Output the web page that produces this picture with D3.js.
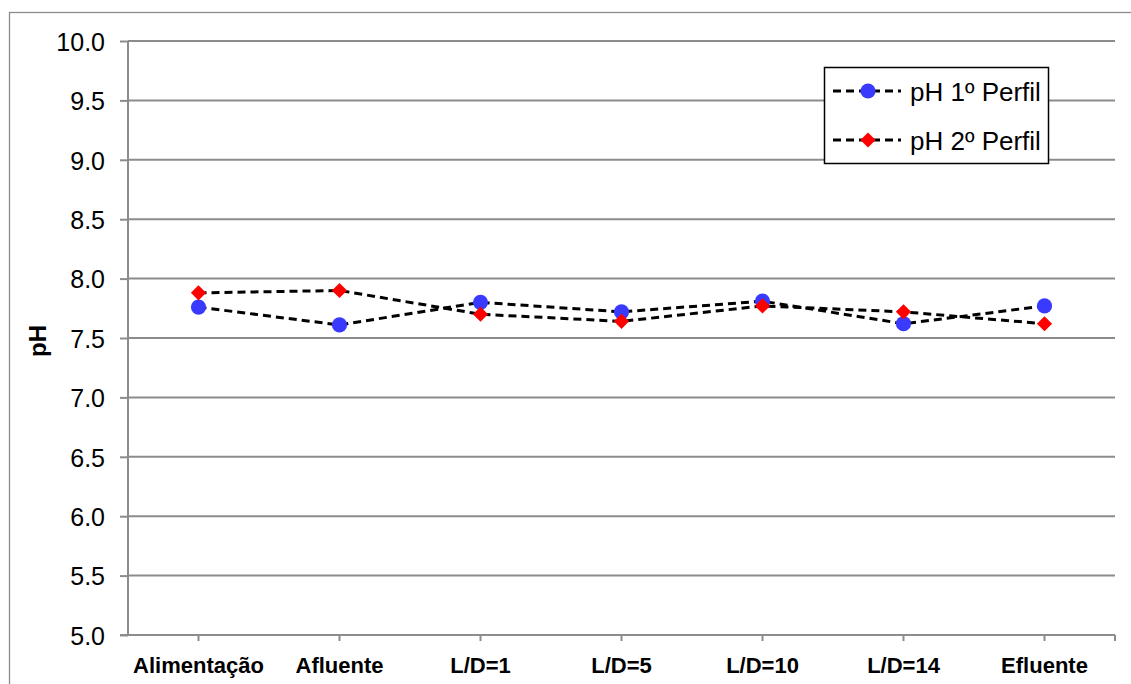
<!DOCTYPE html>
<html>
<head>
<meta charset="utf-8">
<script src="https://cdn.jsdelivr.net/npm/d3@7/dist/d3.min.js"></script>
<style>
  html, body { margin: 0; padding: 0; background: #fff; }
  svg { display: block; font-family: "Liberation Sans", Arial, sans-serif; }
</style>
</head>
<body>
<svg id="chart" width="1131" height="684"></svg>
<script>
// Sampling points along the reactor
const categories = ["Alimentação", "Afluente", "L/D=1", "L/D=5", "L/D=10", "L/D=14", "Efluente"];
// pH readings for each profile
const perfil1 = [7.76, 7.61, 7.80, 7.72, 7.81, 7.62, 7.77];
const perfil2 = [7.88, 7.90, 7.70, 7.64, 7.77, 7.72, 7.62];
const seriesNames = ["pH 1º Perfil", "pH 2º Perfil"];
const yTicks = [5.0, 5.5, 6.0, 6.5, 7.0, 7.5, 8.0, 8.5, 9.0, 9.5, 10.0];

const svg = d3.select("#chart");
const grey = "#8c8c8c";
const font = "Liberation Sans, Arial, sans-serif";

// outer frame
svg.append("rect")
  .attr("x", 9.5).attr("y", 12.5)
  .attr("width", 1140).attr("height", 700)
  .attr("fill", "none").attr("stroke", grey).attr("stroke-width", 1.3);

const plot = { left: 128, right: 1115, top: 41, bottom: 635 };

const x = d3.scaleBand().domain(categories).range([plot.left, plot.right]);
const y = d3.scaleLinear().domain([5, 10]).range([plot.bottom, plot.top]);
const cx = d => x(d) + x.bandwidth() / 2;

// horizontal gridlines
svg.append("g").selectAll("line").data(yTicks.slice(1)).join("line")
  .attr("x1", plot.left).attr("x2", plot.right)
  .attr("y1", d => y(d)).attr("y2", d => y(d))
  .attr("stroke", grey).attr("stroke-width", 2);

// y axis
const yAxis = svg.append("g")
  .attr("transform", `translate(${plot.left},0)`)
  .call(d3.axisLeft(y).tickValues(yTicks).tickFormat(d3.format(".1f")).tickSize(8).tickPadding(15));
yAxis.select(".domain").attr("stroke", grey).attr("stroke-width", 2).attr("d", `M0,${plot.top}V${plot.bottom}`);
yAxis.selectAll(".tick line").attr("stroke", grey).attr("stroke-width", 2);
yAxis.selectAll(".tick text")
  .attr("fill", "#000").attr("font-size", 25).attr("dy", "0.37em")
  .attr("font-family", font);

// x axis
const xAxis = svg.append("g")
  .attr("transform", `translate(0,${plot.bottom})`)
  .call(d3.axisBottom(x).tickSize(0).tickPadding(22));
xAxis.select(".domain").remove();
xAxis.selectAll(".tick text")
  .attr("fill", "#000").attr("font-size", 22).attr("font-weight", "bold")
  .attr("font-family", font);
// baseline and tick marks at category centres
svg.append("line")
  .attr("x1", plot.left - 8).attr("x2", plot.right)
  .attr("y1", plot.bottom).attr("y2", plot.bottom)
  .attr("stroke", grey).attr("stroke-width", 2);
svg.append("g").selectAll("line").data(categories).join("line")
  .attr("x1", d => cx(d)).attr("x2", d => cx(d))
  .attr("y1", plot.bottom).attr("y2", plot.bottom + 6)
  .attr("stroke", grey).attr("stroke-width", 2);
svg.append("line")
  .attr("x1", plot.right).attr("x2", plot.right)
  .attr("y1", plot.bottom).attr("y2", plot.bottom + 6)
  .attr("stroke", grey).attr("stroke-width", 2);

// y axis title
svg.append("text")
  .attr("transform", `translate(46,${(plot.top + plot.bottom) / 2 + 3}) rotate(-90)`)
  .attr("text-anchor", "middle")
  .attr("font-size", 24).attr("font-weight", "bold")
  .text("pH");

const line = d3.line().x((d, i) => cx(categories[i])).y(d => y(d));
const dash = "8,5";

function drawSeries(values, shape) {
  svg.append("path").datum(values)
    .attr("d", line)
    .attr("fill", "none").attr("stroke", "#000")
    .attr("stroke-width", 3).attr("stroke-dasharray", dash);
  const g = svg.append("g");
  values.forEach((v, i) => drawMarker(g, cx(categories[i]), y(v), shape));
}

function drawMarker(g, px, py, shape) {
  if (shape === "circle") {
    g.append("circle").attr("cx", px).attr("cy", py).attr("r", 7.6).attr("fill", "#3a3aff");
  } else {
    const s = 7.6;
    g.append("path")
      .attr("d", `M${px},${py - s}L${px + s},${py}L${px},${py + s}L${px - s},${py}Z`)
      .attr("fill", "#ff0000");
  }
}

drawSeries(perfil1, "circle");
drawSeries(perfil2, "diamond");

// legend
const legend = svg.append("g");
legend.append("rect")
  .attr("x", 824.5).attr("y", 67.5).attr("width", 224).attr("height", 96)
  .attr("fill", "#fff").attr("stroke", "#000").attr("stroke-width", 1.5);
const shapes = ["circle", "diamond"];
seriesNames.forEach((name, i) => {
  const ly = 91 + i * 49;
  legend.append("line")
    .attr("x1", 833).attr("x2", 901).attr("y1", ly).attr("y2", ly)
    .attr("stroke", "#000").attr("stroke-width", 3).attr("stroke-dasharray", dash);
  drawMarker(legend, 868, ly, shapes[i]);
  legend.append("text")
    .attr("x", 910).attr("y", ly + 9.5)
    .attr("font-size", 26).attr("fill", "#000")
    .text(name);
});
</script>
</body>
</html>
